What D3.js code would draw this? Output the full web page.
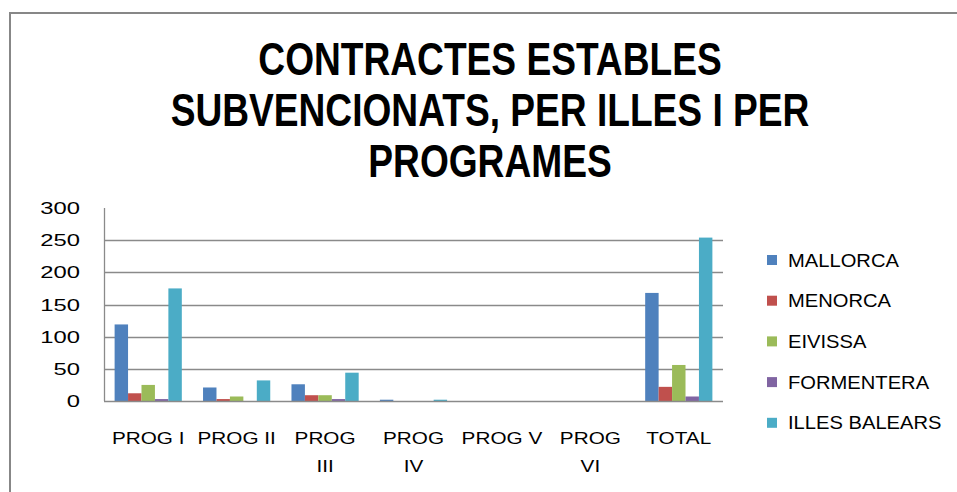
<!DOCTYPE html>
<html>
<head>
<meta charset="utf-8">
<script src="https://cdn.jsdelivr.net/npm/d3@7"></script>
<style>
  body { margin: 0; background: #fff; }
  text { font-family: "Liberation Sans", Arial, sans-serif; fill: #000; }
</style>
</head>
<body>
<svg width="957" height="492"></svg>
<script>
var svg = d3.select('svg');

// data
var categories = ["PROG I", "PROG II", "PROG\nIII", "PROG\nIV", "PROG V", "PROG\nVI", "TOTAL"];
var seriesNames = ["MALLORCA", "MENORCA", "EIVISSA", "FORMENTERA", "ILLES BALEARS"];
var mallorca = [119, 21, 26, 2, 0, 0, 168];
var menorca = [12, 3, 9, 0, 0, 0, 22];
var eivissa = [25, 7, 9, 0, 0, 0, 56];
var formentera = [3, 0, 3, 0, 0, 0, 7];
var illesBalears = [175, 32, 44, 2, 0, 0, 254];
var yTicks = [0, 50, 100, 150, 200, 250, 300];
var titleLines = ["CONTRACTES ESTABLES", "SUBVENCIONATS, PER ILLES I PER", "PROGRAMES"];

var seriesValues = [mallorca, menorca, eivissa, formentera, illesBalears];
var colors = ['#4F81BD', '#C0504D', '#9BBB59', '#8064A2', '#4BACC6'];

// plot area
var plot_left = 104, plot_right = 723, plot_top = 208, plot_bottom = 401;

var x = d3.scaleBand()
  .domain(categories)
  .range([plot_left, plot_right])
  .paddingInner(0.24)
  .paddingOuter(0.12);

var xSub = d3.scaleBand()
  .domain(seriesNames)
  .range([0, x.bandwidth()]);

var y = d3.scaleLinear()
  .domain([0, 300])
  .range([plot_bottom, plot_top]);

var color = d3.scaleOrdinal().domain(seriesNames).range(colors);

// outer border (chart area edge)
svg.append("line")
  .attr("x1", 9).attr("x2", 957).attr("y1", 13).attr("y2", 13)
  .attr("stroke", "#878787").attr("stroke-width", 2);
svg.append("line")
  .attr("x1", 10).attr("x2", 10).attr("y1", 12).attr("y2", 492)
  .attr("stroke", "#878787").attr("stroke-width", 2);

// title
svg.selectAll(".title-line")
  .data(titleLines)
  .enter()
  .append("g")
  .attr("class", "title-line")
  .attr("transform", function(d, i) {
    return "translate(490," + (75 + i * 51) + ") scale(0.79,1)";
  })
  .append("text")
  .attr("text-anchor", "middle")
  .attr("font-size", "47px")
  .attr("font-weight", "bold")
  .text(function(d) { return d; });

// gridlines (no line at the top value)
svg.append("g")
  .selectAll("line")
  .data(yTicks.filter(function(d) { return d > 0 && d < 300; }))
  .enter()
  .append("line")
  .attr("x1", plot_left)
  .attr("x2", plot_right)
  .attr("y1", function(d) { return Math.round(y(d)) + 0.5; })
  .attr("y2", function(d) { return Math.round(y(d)) + 0.5; })
  .attr("stroke", "#8a8a8a")
  .attr("stroke-width", 1.3);

// y axis line
svg.append("line")
  .attr("x1", plot_left + 0.5).attr("x2", plot_left + 0.5)
  .attr("y1", plot_top).attr("y2", plot_bottom)
  .attr("stroke", "#8a8a8a").attr("stroke-width", 1.3);

// y tick labels
svg.append("g")
  .selectAll("g")
  .data(yTicks)
  .enter()
  .append("g")
  .attr("transform", function(d) {
    return "translate(80," + (y(d) + 6) + ") scale(1.4,1)";
  })
  .append("text")
  .attr("text-anchor", "end")
  .attr("font-size", "17px")
  .attr("fill", "#222")
  .text(function(d) { return d; });

// bars
var groups = svg.append("g")
  .selectAll("g")
  .data(categories)
  .enter()
  .append("g")
  .attr("transform", function(d) { return "translate(" + x(d) + ",0)"; });

groups.selectAll("rect")
  .data(function(d, i) {
    return seriesNames.map(function(s, j) {
      return { series: s, value: seriesValues[j][i] };
    });
  })
  .enter()
  .append("rect")
  .attr("x", function(d) { return xSub(d.series); })
  .attr("width", xSub.bandwidth())
  .attr("y", function(d) { return y(d.value); })
  .attr("height", function(d) { return y(0) - y(d.value); })
  .attr("fill", function(d) { return color(d.series); });

// x axis line
svg.append("line")
  .attr("x1", plot_left).attr("x2", plot_right)
  .attr("y1", plot_bottom + 0.5).attr("y2", plot_bottom + 0.5)
  .attr("stroke", "#8a8a8a").attr("stroke-width", 1.3);

// x labels (wrapped)
var xLabels = svg.append("g")
  .selectAll("g")
  .data(categories)
  .enter()
  .append("g")
  .attr("transform", function(d) {
    return "translate(" + (x(d) + x.bandwidth() / 2) + ",444) scale(1.22,1)";
  })
  .append("text")
  .attr("text-anchor", "middle")
  .attr("font-size", "17px")
  .attr("fill", "#222");

xLabels.selectAll("tspan")
  .data(function(d) { return d.split("\n"); })
  .enter()
  .append("tspan")
  .attr("x", 0)
  .attr("dy", function(d, i) { return i === 0 ? 0 : 28; })
  .text(function(d) { return d; });

// legend
var legend = svg.append("g")
  .selectAll("g")
  .data(seriesNames)
  .enter()
  .append("g")
  .attr("transform", function(d, i) { return "translate(767," + (260 + i * 40.7) + ")"; });

legend.append("rect")
  .attr("x", 0).attr("y", -5)
  .attr("width", 10).attr("height", 10)
  .attr("fill", function(d) { return color(d); });

legend.append("g")
  .attr("transform", "translate(21,6.5) scale(1.12,1)")
  .append("text")
  .attr("font-size", "18px")
  .attr("fill", "#222")
  .text(function(d) { return d; });
</script>
</body>
</html>
